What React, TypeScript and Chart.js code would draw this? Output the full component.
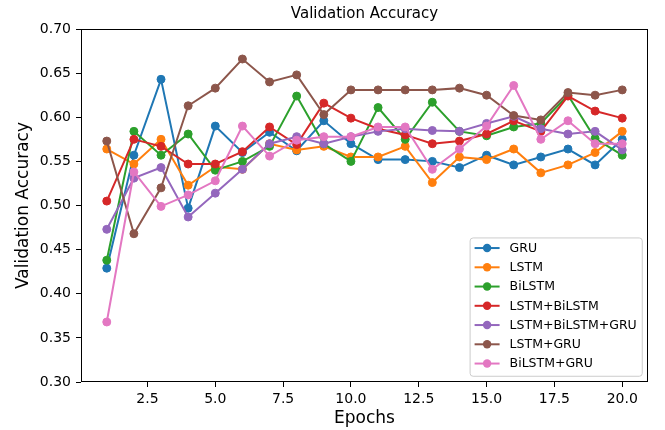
import React, { useEffect, useRef } from 'react';
import { Chart, registerables } from 'chart.js';

Chart.register(...registerables);

const epochs = [1, 2, 3, 4, 5, 6, 7, 8, 9, 10, 11, 12, 13, 14, 15, 16, 17, 18, 19, 20];

const gru = [0.429, 0.557, 0.643, 0.497, 0.590, 0.560, 0.583, 0.562, 0.596, 0.570, 0.552, 0.552, 0.550, 0.543, 0.557, 0.546, 0.555, 0.564, 0.546, 0.575];
const lstm = [0.564, 0.547, 0.575, 0.523, 0.544, 0.541, 0.570, 0.563, 0.567, 0.555, 0.555, 0.567, 0.526, 0.555, 0.552, 0.564, 0.537, 0.546, 0.560, 0.584];
const bilstm = [0.438, 0.584, 0.557, 0.581, 0.540, 0.550, 0.567, 0.624, 0.570, 0.550, 0.611, 0.575, 0.617, 0.584, 0.579, 0.589, 0.593, 0.625, 0.576, 0.557];
const lstmBilstm = [0.505, 0.575, 0.567, 0.547, 0.547, 0.561, 0.589, 0.569, 0.616, 0.599, 0.587, 0.580, 0.570, 0.573, 0.581, 0.596, 0.584, 0.624, 0.607, 0.599];
const lstmBilstmGru = [0.473, 0.531, 0.543, 0.487, 0.514, 0.541, 0.570, 0.578, 0.570, 0.578, 0.584, 0.587, 0.585, 0.584, 0.593, 0.601, 0.587, 0.581, 0.584, 0.563];
const lstmGru = [0.573, 0.468, 0.520, 0.613, 0.633, 0.666, 0.640, 0.648, 0.603, 0.631, 0.631, 0.631, 0.631, 0.633, 0.625, 0.602, 0.597, 0.628, 0.625, 0.631];
const bilstmGru = [0.368, 0.538, 0.499, 0.512, 0.528, 0.590, 0.556, 0.574, 0.578, 0.578, 0.589, 0.589, 0.541, 0.564, 0.590, 0.636, 0.575, 0.596, 0.570, 0.570];

const seriesLabels = ['GRU', 'LSTM', 'BiLSTM', 'LSTM+BiLSTM', 'LSTM+BiLSTM+GRU', 'LSTM+GRU', 'BiLSTM+GRU'];
const seriesValues = [gru, lstm, bilstm, lstmBilstm, lstmBilstmGru, lstmGru, bilstmGru];
const seriesColors = ['#1f77b4', '#ff7f0e', '#2ca02c', '#d62728', '#9467bd', '#8c564b', '#e377c2'];

const xTicks = [2.5, 5.0, 7.5, 10.0, 12.5, 15.0, 17.5, 20.0];
const yTicks = [0.30, 0.35, 0.40, 0.45, 0.50, 0.55, 0.60, 0.65, 0.70];

const chartTitle = 'Validation Accuracy';
const xTitle = 'Epochs';
const yTitle = 'Validation Accuracy';

const FONT = "'DejaVu Sans', sans-serif";

const mplPlugin = {
  id: 'mplFrameLegend',
  afterDatasetsDraw(chart: any) {
    const { ctx, chartArea: a } = chart;
    ctx.save();
    // spines
    ctx.strokeStyle = '#000';
    ctx.lineWidth = 1;
    ctx.strokeRect(Math.round(a.left) + 0.5, Math.round(a.top) + 0.5, Math.round(a.right - a.left) - 1, Math.round(a.bottom - a.top) - 1);

    // legend
    const fs = 12.5;
    ctx.font = `${fs}px ${FONT}`;
    const items = chart.data.datasets;
    const maxW = Math.max(...items.map((d: any) => ctx.measureText(d.label).width));
    const pad = 0.4 * fs;
    const handle = 2 * fs;
    const gap = 0.8 * fs;
    const step = 19.25;
    const w = pad + handle + gap + maxW + pad;
    const h = 138.3;
    const right = a.right - 0.5 * fs;
    const bottom = a.bottom - 0.5 * fs;
    const left = right - w;
    const top = bottom - h;
    ctx.beginPath();
    (ctx as any).roundRect(left + 0.5, top + 0.5, w, h, 3);
    ctx.fillStyle = 'rgba(255,255,255,0.8)';
    ctx.fill();
    ctx.strokeStyle = '#cccccc';
    ctx.lineWidth = 1;
    ctx.stroke();

    items.forEach((d: any, i: number) => {
      const y = top + 10.6 + i * step;
      const x0 = left + pad;
      ctx.strokeStyle = d.borderColor;
      ctx.lineWidth = 2;
      ctx.beginPath();
      ctx.moveTo(x0, y);
      ctx.lineTo(x0 + handle, y);
      ctx.stroke();
      ctx.fillStyle = d.borderColor;
      ctx.beginPath();
      ctx.arc(x0 + handle / 2, y, 4.2, 0, Math.PI * 2);
      ctx.fill();
      ctx.fillStyle = '#000';
      ctx.textBaseline = 'middle';
      ctx.textAlign = 'left';
      ctx.fillText(d.label, x0 + handle + gap, y + 0.5);
    });
    ctx.restore();
  },
};

export default function App() {
  const canvasRef = useRef<HTMLCanvasElement | null>(null);

  useEffect(() => {
    if (!canvasRef.current) return;
    Chart.defaults.font.family = FONT;
    Chart.defaults.color = '#000';

    const datasets = seriesLabels.map((label, i) => ({
      label,
      data: epochs.map((x, j) => ({ x, y: seriesValues[i][j] })),
      borderColor: seriesColors[i],
      backgroundColor: seriesColors[i],
      pointBackgroundColor: seriesColors[i],
      pointBorderColor: seriesColors[i],
      pointRadius: 4,
      pointBorderWidth: 1,
      borderWidth: 2,
      tension: 0,
      fill: false,
      order: seriesLabels.length - i,
    }));

    const chart = new Chart(canvasRef.current, {
      type: 'line',
      data: { datasets },
      options: {
        animation: false,
        responsive: false,
        devicePixelRatio: 1,
        layout: { padding: { left: 0, right: 17, top: 0, bottom: 0 } },
        plugins: {
          legend: { display: false },
          tooltip: { enabled: false },
          title: {
            display: true,
            text: chartTitle,
            fullSize: false,
            color: '#000',
            font: { size: 15, weight: 'normal', family: FONT },
            padding: { top: 5, bottom: 6 },
          },
        },
        scales: {
          x: {
            type: 'linear',
            min: 0.05,
            max: 20.95,
            afterBuildTicks: (s: any) => {
              s.ticks = xTicks.map((v) => ({ value: v }));
            },
            afterFit: (s: any) => {
              s.height = 48;
            },
            ticks: {
              callback: (v: any) => Number(v).toFixed(1),
              color: '#000',
              font: { size: 14, family: FONT },
              padding: 4,
              maxRotation: 0,
              autoSkip: false,
            },
            grid: { display: true, drawOnChartArea: false, drawTicks: true, tickLength: 5, tickColor: '#000', tickWidth: 1 },
            border: { display: false },
            title: {
              display: true,
              text: xTitle,
              color: '#000',
              font: { size: 17, family: FONT },
              padding: { top: 0, bottom: 1 },
            },
          },
          y: {
            type: 'linear',
            min: 0.3,
            max: 0.7,
            afterBuildTicks: (s: any) => {
              s.ticks = yTicks.map((v) => ({ value: v }));
            },
            afterFit: (s: any) => {
              s.width = 81;
            },
            ticks: {
              callback: (v: any) => Number(v).toFixed(2),
              color: '#000',
              font: { size: 14, family: FONT },
              padding: 5,
              autoSkip: false,
            },
            grid: { display: true, drawOnChartArea: false, drawTicks: true, tickLength: 5, tickColor: '#000', tickWidth: 1 },
            border: { display: false },
            title: {
              display: true,
              text: yTitle,
              color: '#000',
              font: { size: 17, family: FONT },
              padding: { top: 13, bottom: 0 },
            },
          },
        },
      } as any,
      plugins: [mplPlugin],
    });

    return () => chart.destroy();
  }, []);

  return (
    <div style={{ position: 'fixed', left: 0, top: 0, width: 665, height: 430, background: '#fff' }}>
      <canvas ref={canvasRef} width={665} height={430} style={{ display: 'block' }} />
    </div>
  );
}
